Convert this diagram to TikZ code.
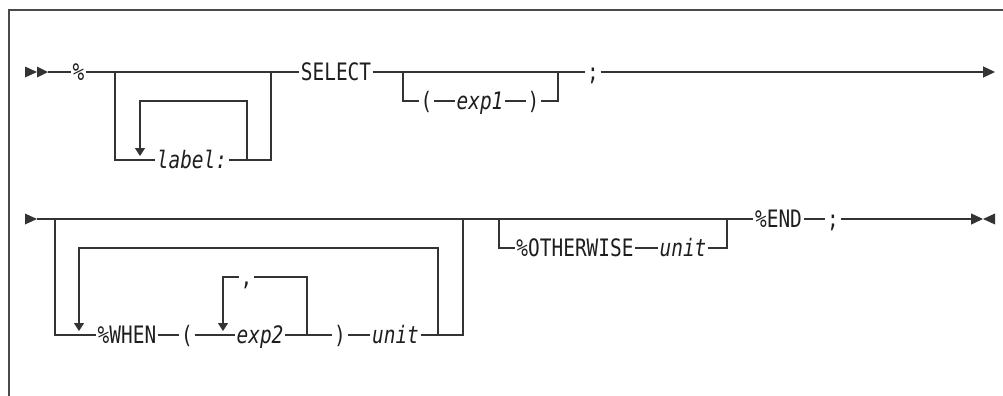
\documentclass[tikz,border=0pt]{standalone}
\usepackage{fontspec}
\usepackage{tikz}
\usetikzlibrary{arrows.meta}
\newfontfamily\rrfont[FakeStretch=0.81]{DejaVu Sans Mono}
\definecolor{RRLine}{HTML}{333333}
\definecolor{RRText}{HTML}{1E1E1E}
\definecolor{RRFrame}{HTML}{4A4A4A}

\begin{document}
\begin{tikzpicture}[
  x=0.75pt, y=-0.75pt,
  kw/.style={font=\rrfont\fontsize{18}{18}\selectfont, text=RRText, inner xsep=1.2pt, inner ysep=0pt, text height=13.1pt, text depth=0pt},
  var/.style={kw, font=\rrfont\itshape\fontsize{18}{18}\selectfont},
  rrline/.style={draw=RRLine, line width=1pt},
  backarrow/.style={rrline, -{Triangle[width=7.5pt, length=6pt]}},
  endarrow/.style={rrline, -{Triangle[width=8.25pt, length=9pt]}},
  marker/.style={fill=RRLine}
]
\useasboundingbox (0,0) rectangle (1003,396);
\draw[RRFrame, line width=1.5pt] (9,396) -- (9,10) -- (1003,10);

% first line
\node[kw] (pct) at (78.5,72) {\%};
\node[var] (lab) at (192,160) {label:};
\node[kw] (sel) at (336,72) {SELECT};
\node[kw] (lp1) at (426.5,101) {(};
\node[var] (exp1) at (480,101) {exp1};
\node[kw] (rp1) at (533.5,101) {)};
\node[kw] (semi1) at (593,72) {;};

\coordinate (start1) at (48,72);
\coordinate (lbA) at (115,72);
\coordinate (lbB) at (271,72);
\coordinate (lbC) at (247,160);
\coordinate (lbD) at (140,156);
\coordinate (opA) at (403,72);
\coordinate (opB) at (558,72);
\coordinate (end1) at (995,72);

\fill[marker] (25,66.5) -- (37,72) -- (25,77.5) -- cycle (37,66.5) -- (48,72) -- (37,77.5) -- cycle;
\draw[rrline] (start1) -- (pct);
\draw[rrline] (pct) -- (sel);
\draw[rrline] (lbA) |- (lab);
\draw[rrline] (lab) -| (lbB);
\draw[backarrow] (lbC) -- ++(0,-59) -| (lbD);
\draw[rrline] (sel) -- (semi1);
\draw[rrline] (opA) |- (lp1);
\draw[rrline] (lp1) -- (exp1);
\draw[rrline] (exp1) -- (rp1);
\draw[rrline] (rp1) -| (opB);
\draw[endarrow] (semi1) -- (end1);

% second line
\node[kw] (when) at (127,335) {\%WHEN};
\node[kw] (lp2) at (187,335) {(};
\node[var] (exp2) at (260,335) {exp2};
\node[kw] (comma) at (246.5,277) {,};
\node[kw] (rp2) at (340,335) {)};
\node[var] (unit1) at (395.5,335) {unit};
\node[kw] (other) at (575,248) {\%OTHERWISE};
\node[var] (unit2) at (683,248) {unit};
\node[kw] (endkw) at (778.5,219) {\%END};
\node[kw] (semi2) at (833,219) {;};

\coordinate (start2) at (37,219);
\coordinate (wlA) at (55,219);
\coordinate (wlB) at (463,219);
\coordinate (wbA) at (438,335);
\coordinate (wbB) at (79,331);
\coordinate (exA) at (307,335);
\coordinate (exB) at (223,331);
\coordinate (owA) at (499,219);
\coordinate (owB) at (727,219);
\coordinate (fin) at (983,219);

\fill[marker] (25,213.5) -- (37,219) -- (25,224.5) -- cycle;
\draw[rrline] (start2) -- (endkw);
\draw[rrline] (wlA) |- (when);
\draw[rrline] (when) -- (lp2);
\draw[rrline] (lp2) -- (exp2);
\draw[rrline] (exp2) -- (rp2);
\draw[rrline] (rp2) -- (unit1);
\draw[rrline] (unit1) -| (wlB);
\draw[rrline] (exA) |- (comma);
\draw[backarrow] (comma) -| (exB);
\draw[backarrow] (wbA) -- ++(0,-87) -| (wbB);
\draw[rrline] (owA) |- (other);
\draw[rrline] (other) -- (unit2);
\draw[rrline] (unit2) -| (owB);
\draw[rrline] (endkw) -- (semi2);
\draw[endarrow] (semi2) -- (fin);
\fill[marker] (995,213.5) -- (983,219) -- (995,224.5) -- cycle;
\end{tikzpicture}
\end{document}
